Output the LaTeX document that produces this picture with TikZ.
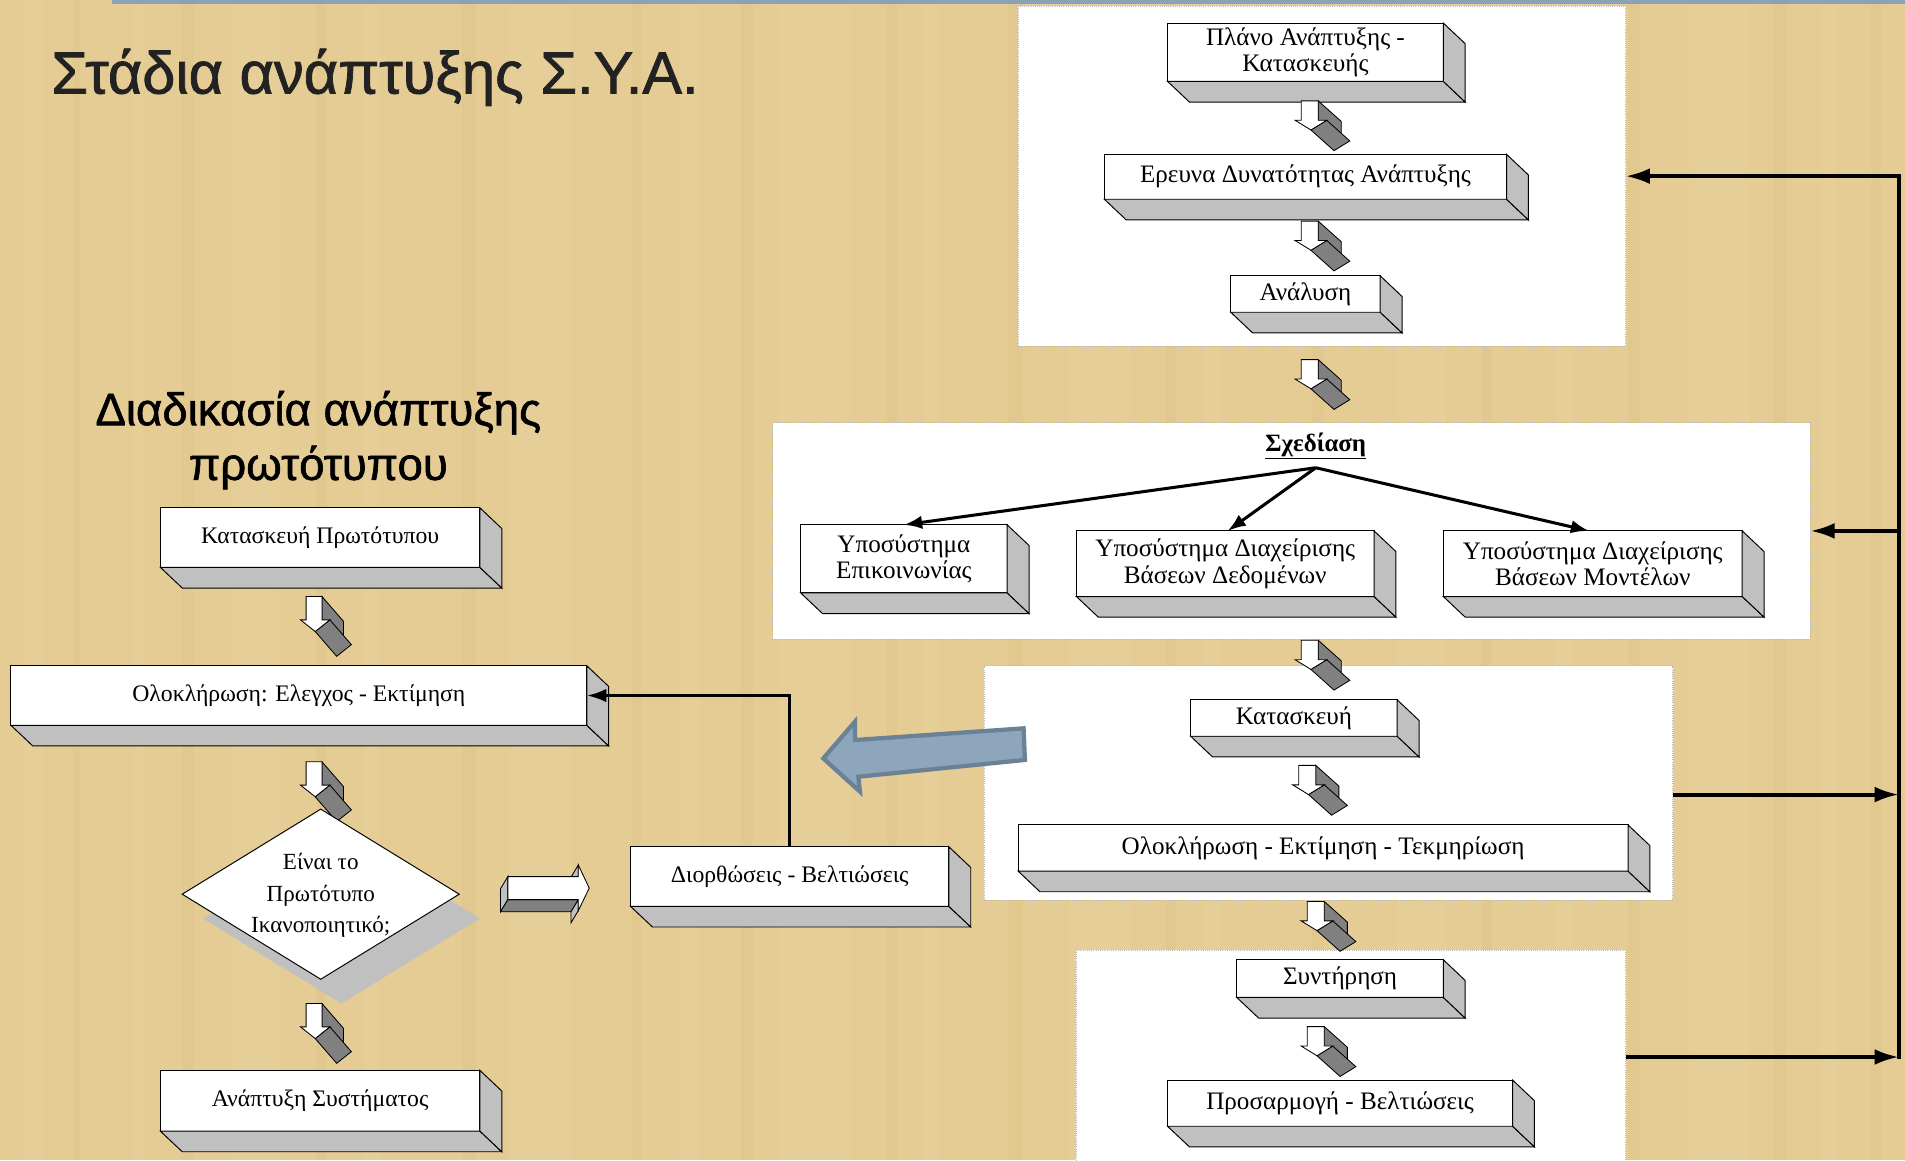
\documentclass[tikz,border=0pt]{standalone}
\usepackage{fontspec}
\setmainfont{Liberation Serif}
\newfontfamily\titlefont{Liberation Sans}[FakeBold=1.3]
\usetikzlibrary{arrows.meta,shapes.geometric}
\definecolor{bg}{RGB}{228,204,148}
\definecolor{bgl}{RGB}{236,216,168}
\definecolor{bgd}{RGB}{214,188,128}
\definecolor{facegray}{RGB}{192,192,192}
\definecolor{arrgray}{RGB}{128,128,128}
\definecolor{bluefill}{RGB}{141,166,188}
\definecolor{blueedge}{RGB}{106,129,150}
\definecolor{topline}{RGB}{140,162,182}
\definecolor{titlecol}{RGB}{34,34,34}
\tikzset{
  tdb/.style={draw=black, fill=white, line width=0.8pt, inner sep=0pt, outer sep=0pt, align=center,
    font=\fontsize{20.7}{22}\selectfont},
  face/.style={draw=black, fill=facegray, line width=0.8pt},
  afront/.style={draw=black, fill=white, line width=0.7pt},
  aface/.style={draw=black, fill=arrgray, line width=0.7pt},
  lface/.style={draw=black, fill=facegray, line width=0.7pt},
  panel/.style={draw=gray!55, densely dotted, fill=white, line width=0.8pt, inner sep=0pt, outer sep=0pt},
  fb/.style={line width=3.2pt, -{Latex[length=20pt,width=13pt]}},
  sa/.style={line width=2.5pt, -{Latex[length=15pt,width=11pt]}},
  titletext/.style={font=\titlefont\fontsize{49}{60}\selectfont, text=titlecol, inner sep=0pt},
  subtext/.style={font=\titlefont\fontsize{37.5}{46}\selectfont, text=black, inner sep=0pt},
}
% 3D box: name, x1, y1, x2, y2, text
\newcommand\tdbox[6]{%
  \node[tdb, minimum width={(#4)-(#2)}, minimum height={(#5)-(#3)}] (#1) at ({((#2)+(#4))/2},{((#3)+(#5))/2+1}) {#6};
  \path[face] (#1.south west) -- ++(18,17) -- ++({(#4)-(#2)},0) -- (#1.south east) -- cycle;
  \path[face] (#1.north east) -- ++(18,17) -- ++(0,{(#5)-(#3)}) -- (#1.south east) -- cycle;
}
% 3D down arrow: x, y (top-left of shaft), xscale, yscale
\newcommand\darr[4]{%
  \begin{scope}[shift={(#1,#2)}, xscale=#3, yscale=#4]
    \path[aface] (14,0) -- (33,17) -- (33,33) -- (14,16) -- cycle;
    \path[aface] (21,16) -- (40,33) -- (27,41) -- (8,24) -- cycle;
    \path[afront] (0,0) -- (14,0) -- (14,16) -- (21,16) -- (8,24) -- (-5,16) -- (0,16) -- cycle;
  \end{scope}}
\begin{document}
\begin{tikzpicture}[x=1pt,y=-1pt]
\useasboundingbox (0,0) rectangle (1568,955);
\fill[bg] (0,0) rectangle (1568,955);
% faint parchment streaks
\foreach \a/\b in {20/35,110/118,190/230,300/312,420/470,560/575,640/700,760/772,880/930,990/1004,1150/1190,1280/1295,1390/1440,1500/1512}{
  \fill[bgl, opacity=0.22] (\a,0) rectangle (\b,955);}
\foreach \a/\b in {60/66,150/160,260/268,380/392,520/528,610/620,730/738,830/842,960/968,1080/1090,1220/1228,1340/1350,1460/1470,1540/1548}{
  \fill[bgd, opacity=0.22] (\a,0) rectangle (\b,955);}
\draw[topline, line width=3pt] (92,1.5) -- (1568,1.5);

% titles
\node[titletext, anchor=base west] (title) at (42,77) {Στάδια ανάπτυξης Σ.Υ.Α.};
\node[subtext, anchor=base] (sub1) at (262,350) {Διαδικασία ανάπτυξης};
\node[subtext, anchor=base] (sub2) at (262,395) {πρωτότυπου};

% panels
\node[panel, minimum width=500, minimum height=280] (p1) at (1088,145) {};
\node[panel, minimum width=854, minimum height=178] (p2) at (1063,437) {};
\node[panel, minimum width=567, minimum height=193] (p3) at (1093.5,644.5) {};
\node[panel, minimum width=452, minimum height=180] (p4) at (1112,872) {};

% right column boxes
\tdbox{plano}{961}{18}{1188}{66}{Πλάνο Ανάπτυξης -\\Κατασκευής}
\tdbox{ereuna}{909}{126}{1240}{163}{Ερευνα Δυνατότητας Ανάπτυξης}
\tdbox{anal}{1013}{226}{1136}{256}{Ανάλυση}
\darr{1071}{83}{1}{1}
\darr{1071}{182}{1}{1}
\darr{1071}{296}{1}{1}

\node[font=\bfseries\fontsize{20.5}{22}\selectfont, inner sep=1pt] (sx) at (1083,367) {\underline{Σχεδίαση}};
\coordinate (sxo) at (1083,385);
\tdbox{epik}{659}{431}{829}{487}{Υποσύστημα\\Επικοινωνίας}
\tdbox{dbd}{886}{436}{1131}{490}{Υποσύστημα Διαχείρισης\\Βάσεων Δεδομένων}
\tdbox{dbm}{1188}{436}{1434}{490}{Υποσύστημα Διαχείρισης\\Βάσεων Μοντέλων}
\draw[sa] (sxo) -- (epik.north);
\draw[sa] (sxo) -- ([xshift=2pt]dbd.north);
\draw[sa] (sxo) -- ([xshift=-3pt]dbm.north);

\darr{1071}{527}{1}{1}
\tdbox{kat}{980}{575}{1150}{605}{Κατασκευή}
\darr{1069}{630}{1}{1}
\tdbox{olokl}{838}{678}{1340}{716}{Ολοκλήρωση - Εκτίμηση - Τεκμηρίωση}
\darr{1076}{742}{1}{1}
\tdbox{synt}{1018}{789}{1188}{820}{Συντήρηση}
\darr{1076}{845}{1}{1}
\tdbox{pros}{961}{888}{1245}{926}{Προσαρμογή - Βελτιώσεις}

% right feedback lines
\coordinate (r1) at (1563,145);
\coordinate (r2) at (1563,437);
\coordinate (r3) at (1563,654);
\coordinate (r4) at (1563,870);
\draw[line width=3.8pt] ([yshift=1.6pt]r1) -- ([yshift=-1.6pt]r4);
\draw[fb] (r1) -- (r1 -| p1.east);
\draw[fb] (r2) -- (r2 -| p2.east);
\draw[fb] (r3 -| p3.east) -- (r3);
\draw[fb] (r4 -| p4.east) -- (r4);

% left flow
\begin{scope}[tdb/.append style={font=\fontsize{19.5}{21.5}\selectfont}]
\tdbox{kpr}{132}{417}{395}{466}{Κατασκευή Πρωτότυπου}
\darr{252}{491}{0.93}{1.2}
\tdbox{olo}{9}{547}{483}{596}{Ολοκλήρωση: Ελεγχος - Εκτίμηση}
\node[diamond, fill=facegray, minimum width=228, minimum height=140, inner sep=0pt, outer sep=0pt, aspect=1.63] (diash) at (281,756) {};
\darr{252}{627}{0.93}{1.2}
\node[diamond, draw=black, line width=0.8pt, fill=white, minimum width=228, minimum height=140, inner sep=0pt, outer sep=0pt, aspect=1.63] (dia) at (264,736) {};
\node[align=center, font=\fontsize{19}{26}\selectfont, inner sep=0pt] (diatext) at (264,737) {Είναι το\\Πρωτότυπο\\Ικανοποιητικό;};
\darr{252}{826}{0.93}{1.2}
\tdbox{anap}{132}{880}{395}{930}{Ανάπτυξη Συστήματος}
\tdbox{dio}{519}{696}{781}{745}{Διορθώσεις - Βελτιώσεις}
\end{scope}
\draw[line width=2.5pt, -{Latex[length=16pt,width=11pt]}] (dio.north) -- (dio.north |- olo.east) -- (olo.east);

% right-pointing 3D arrow
\begin{scope}[shift={(418,721.5)}]
  \path[lface] (58,-9.5) -- (58,0) -- (52,10) -- (52,0.5) -- cycle;
  \path[lface] (0,0) -- (0,19) -- (-6,29) -- (-6,10) -- cycle;
  \path[aface] (0,19) -- (58,19) -- (52,29) -- (-6,29) -- cycle;
  \path[lface] (58,19) -- (58,28) -- (52,38) -- (52,29) -- cycle;
  \path[afront] (0,0) -- (58,0) -- (58,-9.5) -- (67,9.5) -- (58,28) -- (58,19) -- (0,19) -- cycle;
\end{scope}

% blue arrow
\path[draw=blueedge, fill=bluefill, line width=3.5pt, line join=miter]
  (842.5,599.5) -- (703.7,609.1) -- (703.7,594) -- (677.7,624.2) -- (707.8,651.6) -- (706.5,639.3) -- (843.6,625.5) -- cycle;
\end{tikzpicture}
\end{document}
